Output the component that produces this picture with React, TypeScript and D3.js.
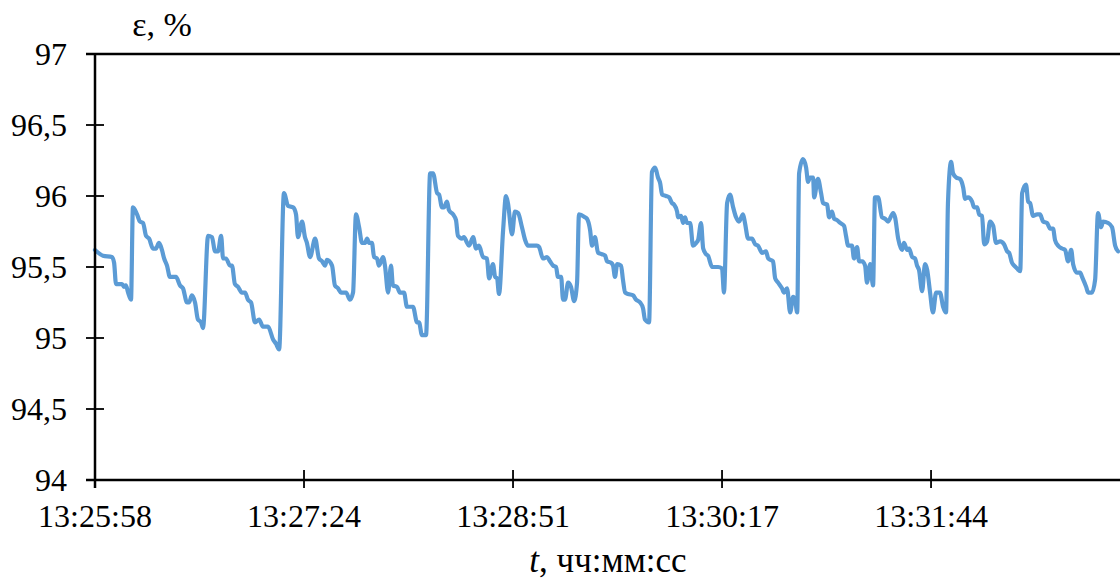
import React from "react";
import * as d3 from "d3";

// time offset (s) from 13:25:58
const times: number[] = [
  0, 3.3, 7.0, 7.9, 8.7, 11.2, 12.0, 12.8, 13.7, 14.9, 15.7, 17.4, 18.6, 19.9, 21.1, 22.4, 24.0, 25.2, 26.5, 27.7,
  28.6, 29.8, 31.0, 33.5, 35.2, 36.4, 38.1, 38.9, 40.1, 41.4, 42.6, 43.9, 44.7, 46.8, 48.4, 49.7, 50.9, 52.2, 53.0,
  54.2, 55.9, 56.7, 57.9, 59.2, 60.8, 62.1, 63.3, 64.6, 66.2, 67.9, 69.5, 71.6, 73.7, 74.9, 76.2, 78.2, 79.9, 82.0,
  83.2, 84.0, 85.7, 86.9, 87.7, 89.0, 91.1, 92.7, 94.0, 95.2, 96.0, 98.1, 99.3, 100.6, 101.8, 103.9, 105.5,
  106.8, 108.0, 109.3, 110.5, 111.8, 112.6, 113.4, 114.6, 115.5, 116.7, 117.5, 119.2, 120.0, 121.3, 122.5, 123.3,
  125.0, 126.2, 127.9, 129.1, 131.6, 133.3, 134.1, 135.3, 137.0, 138.7, 139.9, 141.6, 142.4, 143.6, 144.4, 145.7,
  146.5, 148.2, 149.4, 150.2, 151.9, 152.7, 154.0, 154.8, 156.5, 157.7, 158.9,
  160.6, 162.2, 163.1, 164.7, 165.6, 166.4, 167.2, 168.9, 170.1, 170.9, 172.6, 173.8, 175.1, 176.7, 178.0, 179.2,
  181.3, 182.9, 183.8, 185.4, 187.1, 188.3, 189.6, 190.8, 191.6, 192.9, 193.7, 194.5, 195.8, 197.0, 198.3, 199.5,
  200.3, 202.8, 203.6, 204.9, 205.7, 206.9, 208.2, 209.8, 211.1, 211.9, 213.6,
  214.4, 215.2, 216.1, 217.7, 218.5, 219.4, 220.6, 222.7, 223.9, 225.6, 226.8, 227.6, 229.3, 230.5, 231.8, 233.0,
  233.9, 234.7, 236.3, 237.6, 238.8, 239.6, 240.9, 241.3, 242.5, 243.4, 244.2, 245.0, 246.3, 247.5, 248.8, 249.6,
  250.8, 251.7, 252.9, 253.7, 255.4, 257.9, 259.5, 260.3, 261.6, 262.8, 264.1, 265.3, 266.5,
  268.2, 269.0, 270.3, 271.9, 273.2, 274.4, 276.1, 277.7, 278.6, 280.6, 281.5, 282.7, 284.3, 285.2, 286.4, 287.7,
  288.9, 289.7, 290.6, 291.4, 293.0, 294.3, 295.1, 295.9, 297.2, 297.6, 299.2, 300.5, 301.3, 303.0, 303.8, 305.0,
  305.9, 307.1, 308.4, 310.0, 310.8, 311.7, 313.3, 314.1, 315.4, 316.2, 317.5, 318.7, 319.5, 320.8, 322.0, 322.8,
  324.1, 325.7, 327.0, 328.2, 330.3, 331.1, 332.4, 334.0, 334.8, 336.1, 336.9, 338.2, 339.4, 340.2, 341.0, 342.3,
  343.5, 344.4, 345.6, 346.8, 348.1, 349.7, 351.0, 352.2, 353.0, 354.3, 355.1, 356.4, 358.0, 359.3, 360.1, 361.3,
  363.0, 363.8, 365.1, 365.9, 367.1, 368.0, 369.2, 370.4, 371.7, 372.9,
  374.6, 376.2, 377.5, 378.3, 379.5, 380.4, 381.6, 382.9, 383.7, 385.3, 386.2, 387.0, 388.2, 389.9, 391.1, 392.4,
  394.0, 395.3, 396.5, 397.3, 398.6, 400.2, 401.5, 402.7, 404.0, 404.8, 406.4, 407.7, 408.5, 410.2, 411.0, 412.6,
  413.9, 415.1, 416.4, 417.2, 419.3, 420.9, 422.2, 423.4,
];

// porosity ε, %
const eps: number[] = [
  95.62, 95.58, 95.57, 95.53, 95.38, 95.38, 95.36, 95.37, 95.32, 95.27, 95.92, 95.87, 95.82, 95.81, 95.72, 95.70, 95.63, 95.63, 95.67, 95.62,
  95.56, 95.51, 95.43, 95.43, 95.37, 95.35, 95.25, 95.25, 95.30, 95.25, 95.13, 95.11, 95.07, 95.72, 95.71, 95.61, 95.61, 95.72, 95.56,
  95.56, 95.51, 95.51, 95.38, 95.36, 95.32, 95.32, 95.27, 95.25, 95.11, 95.13, 95.08, 95.08, 94.99, 94.96, 94.92, 96.02, 95.93, 95.92,
  95.87, 95.71, 95.82, 95.71, 95.67, 95.57, 95.70, 95.56, 95.54, 95.51, 95.55, 95.51, 95.37, 95.35, 95.32, 95.32, 95.27,
  95.32, 95.87, 95.78, 95.67, 95.67, 95.70, 95.67, 95.67, 95.57, 95.56, 95.51, 95.57, 95.51, 95.32, 95.51, 95.37,
  95.36, 95.32, 95.32, 95.22, 95.22, 95.11, 95.11, 95.02, 95.02, 96.16, 96.16, 96.02, 96.01, 95.92, 95.92, 95.96,
  95.90, 95.87, 95.83, 95.72, 95.70, 95.71, 95.67, 95.65, 95.71, 95.63, 95.65,
  95.57, 95.56, 95.42, 95.52, 95.43, 95.42, 95.31, 95.76, 96.00, 95.95, 95.73, 95.89, 95.88, 95.78, 95.69, 95.65,
  95.65, 95.65, 95.64, 95.56, 95.57, 95.54, 95.51, 95.50, 95.43, 95.43, 95.27, 95.27, 95.39, 95.36, 95.26, 95.39,
  95.87, 95.85, 95.84, 95.76, 95.65, 95.71, 95.60, 95.59, 95.58, 95.54, 95.53,
  95.51, 95.43, 95.52, 95.51, 95.41, 95.32, 95.31, 95.30, 95.27, 95.25, 95.21, 95.13, 95.11, 96.17, 96.20, 96.13,
  96.09, 96.01, 96.00, 95.99, 95.95, 95.94, 95.89, 95.85, 95.86, 95.81, 95.85, 95.81, 95.81, 95.65, 95.67, 95.69,
  95.81, 95.63, 95.59, 95.58, 95.50, 95.50, 95.49, 95.32, 95.95, 96.01, 95.92, 95.85, 95.82,
  95.87, 95.81, 95.70, 95.70, 95.66, 95.65, 95.60, 95.61, 95.56, 95.54, 95.42, 95.39, 95.35, 95.32, 95.35, 95.18,
  95.29, 95.27, 95.18, 96.16, 96.26, 96.20, 96.10, 96.13, 96.13, 95.99, 96.12, 96.02, 95.95, 95.94, 95.85, 95.89,
  95.84, 95.83, 95.81, 95.79, 95.72, 95.65, 95.65, 95.56, 95.64, 95.54, 95.54, 95.51, 95.39, 95.52, 95.37, 95.99,
  95.99, 95.85, 95.84, 95.82, 95.88, 95.85, 95.70, 95.62, 95.67, 95.62, 95.63, 95.57, 95.56, 95.51, 95.48, 95.33,
  95.52, 95.48, 95.32, 95.18, 95.32, 95.32, 95.22, 95.18, 95.95, 96.24, 96.16, 96.13, 96.12, 96.06, 95.98, 95.99,
  95.96, 95.92, 95.92, 95.87, 95.86, 95.66, 95.68, 95.82, 95.79, 95.67,
  95.68, 95.66, 95.61, 95.60, 95.53, 95.51, 95.49, 95.47, 96.02, 96.08, 95.96, 95.95, 95.86, 95.87, 95.87, 95.82,
  95.81, 95.77, 95.77, 95.69, 95.65, 95.63, 95.62, 95.54, 95.62, 95.52, 95.46, 95.46, 95.43, 95.36, 95.32, 95.32,
  95.41, 95.88, 95.78, 95.82, 95.81, 95.78, 95.65, 95.61,
];

const yTicks: number[] = [94, 94.5, 95, 95.5, 96, 96.5, 97];
const xTickOffsets: number[] = [0, 86.5, 173, 259.5, 346];
const xTickLabels: string[] = ["13:25:58", "13:27:24", "13:28:51", "13:30:17", "13:31:44"];

const W = 1120;
const H = 579;
const FONT = "'Liberation Serif', 'Times New Roman', serif";

export default function App() {
  const x = d3.scaleLinear().domain([0, 424.2]).range([95, 1120]);
  const y = d3.scaleLinear().domain([94, 97]).range([480, 54]);
  const points = times.map((t, i) => [t, eps[i]] as [number, number]);
  const line = d3
    .line<[number, number]>()
    .x((d) => x(d[0]))
    .y((d) => y(d[1]))
    .curve(d3.curveMonotoneX);
  const fmt = (v: number) => String(v).replace(".", ",");

  return (
    <div style={{ position: "absolute", left: 0, top: 0 }}>
      <svg width={W} height={H} style={{ display: "block", background: "#fff" }} fontFamily={FONT}>
        {/* line */}
        <path d={line(points) || ""} fill="none" stroke="#5B9BD5" strokeWidth={4.2} strokeLinejoin="round" strokeLinecap="round" />
        {/* top border */}
        <line x1={86} x2={W} y1={y(97)} y2={y(97)} stroke="#000" strokeWidth={2.5} />
        {/* y axis */}
        <line x1={x(0)} x2={x(0)} y1={y(97)} y2={y(94) + 8} stroke="#000" strokeWidth={2.5} />
        {/* x axis */}
        <line x1={86} x2={W} y1={y(94)} y2={y(94)} stroke="#000" strokeWidth={2.5} />
        {yTicks.map((v) => (
          <g key={v}>
            <line x1={86} x2={104} y1={y(v)} y2={y(v)} stroke="#000" strokeWidth={1.8} />
            <text x={67} y={y(v)} dy="0.35em" textAnchor="end" fontSize={32} fill="#000">
              {fmt(v)}
            </text>
          </g>
        ))}
        {xTickOffsets.map((t, i) => (
          <g key={t}>
            <line x1={x(t)} x2={x(t)} y1={y(94) - 10} y2={y(94) + 8} stroke="#000" strokeWidth={1.8} />
            <text x={x(t)} y={527} textAnchor="middle" fontSize={32} fill="#000">
              {xTickLabels[i]}
            </text>
          </g>
        ))}
        <text x={162} y={36} textAnchor="middle" fontSize={34} fill="#000">
          ε, %
        </text>
        <text x={608} y={572} textAnchor="middle" fontSize={35} fill="#000">
          <tspan fontStyle="italic">t</tspan>, чч:мм:сс
        </text>
      </svg>
    </div>
  );
}
